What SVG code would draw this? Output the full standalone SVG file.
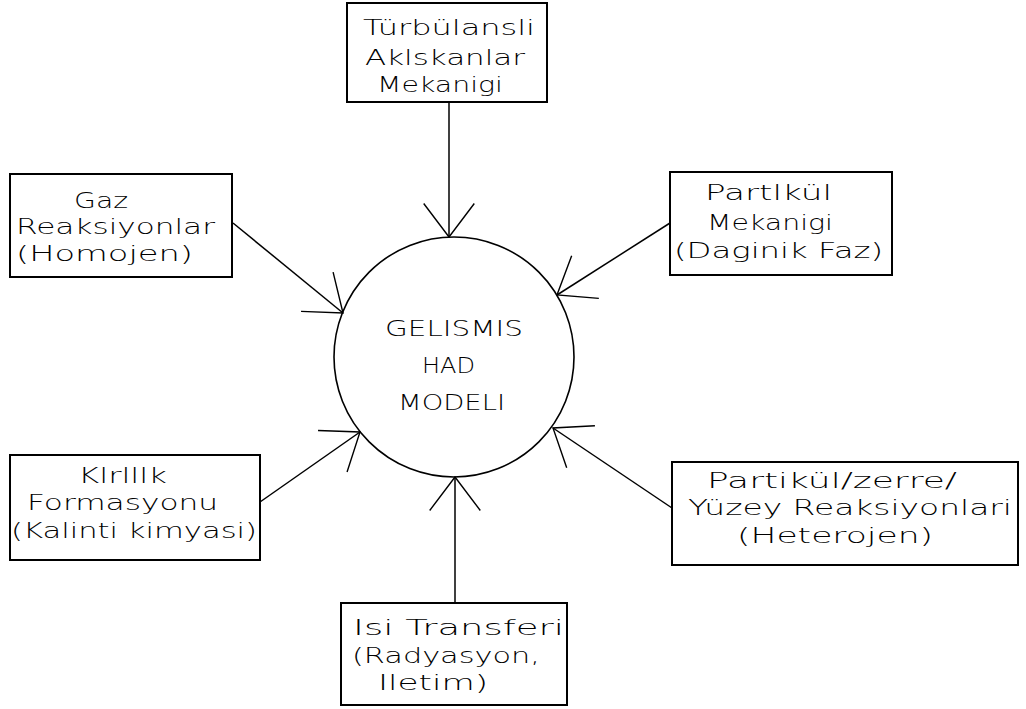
<svg xmlns="http://www.w3.org/2000/svg" width="1026" height="709" viewBox="0 0 1026 709">
<style>
.box{fill:#fff;stroke:#000;stroke-width:2}
.hub{fill:none;stroke:#000;stroke-width:1.6}
.lbl{font-family:"DejaVu Sans","Liberation Sans",sans-serif;font-size:22px;font-weight:200;fill:#000}
.con{stroke:#000;stroke-width:1.5;fill:none}
</style>
<defs>
<marker id="arr" markerUnits="userSpaceOnUse" orient="auto" refX="0" refY="0" markerWidth="80" markerHeight="80" viewBox="-40 -40 80 80" overflow="visible">
<path d="M-33.5,-25.3 L0,0 L-33.5,25.3" fill="none" stroke="#000" stroke-width="1.4"/>
</marker>
</defs>
<rect width="1026" height="709" fill="#fff"/>
<g id="connectors">
<path class="con" d="M449,102 L449,237" marker-end="url(#arr)"/>
<path class="con" d="M233,223 L343,313" marker-end="url(#arr)"/>
<path class="con" d="M670,223 L557,295" marker-end="url(#arr)"/>
<path class="con" d="M260,502 L360,432" marker-end="url(#arr)"/>
<path class="con" d="M672,508 L553,428" marker-end="url(#arr)"/>
<path class="con" d="M455,603 L455,477" marker-end="url(#arr)"/>
</g>
<g id="hub">
<circle class="hub" cx="454" cy="357" r="120"/>
<text class="lbl" x="385" y="336" textLength="138" lengthAdjust="spacingAndGlyphs">GELISMIS</text>
<text class="lbl" x="422" y="373" textLength="53" lengthAdjust="spacingAndGlyphs">HAD</text>
<text class="lbl" x="398" y="410" textLength="107" lengthAdjust="spacingAndGlyphs">MODELI</text>
</g>
<g id="turbulans">
<rect class="box" x="347" y="3" width="200" height="99"/>
<text class="lbl" x="363" y="35" textLength="172" lengthAdjust="spacingAndGlyphs">Türbülansli</text>
<text class="lbl" x="365" y="65" textLength="160" lengthAdjust="spacingAndGlyphs">Aklskanlar</text>
<text class="lbl" x="377" y="92" textLength="126" lengthAdjust="spacingAndGlyphs">Mekanigi</text>
</g>
<g id="gaz">
<rect class="box" x="10" y="174" width="222" height="103"/>
<text class="lbl" x="74" y="208" textLength="54" lengthAdjust="spacingAndGlyphs">Gaz</text>
<text class="lbl" x="16" y="234" textLength="199" lengthAdjust="spacingAndGlyphs">Reaksiyonlar</text>
<text class="lbl" x="16" y="261" textLength="177" lengthAdjust="spacingAndGlyphs">(Homojen)</text>
</g>
<g id="partikul-mekanigi">
<rect class="box" x="670" y="172" width="222" height="103"/>
<text class="lbl" x="705" y="200" textLength="127" lengthAdjust="spacingAndGlyphs">Partlkül</text>
<text class="lbl" x="707" y="230" textLength="126" lengthAdjust="spacingAndGlyphs">Mekanigi</text>
<text class="lbl" x="674" y="258" textLength="209" lengthAdjust="spacingAndGlyphs">(Daginik Faz)</text>
</g>
<g id="kirlilik">
<rect class="box" x="10" y="455" width="250" height="105"/>
<text class="lbl" x="78" y="483" textLength="89" lengthAdjust="spacingAndGlyphs">Klrlllk</text>
<text class="lbl" x="27" y="510" textLength="191" lengthAdjust="spacingAndGlyphs">Formasyonu</text>
<text class="lbl" x="11" y="538" textLength="246" lengthAdjust="spacingAndGlyphs">(Kalinti kimyasi)</text>
</g>
<g id="yuzey">
<rect class="box" x="672" y="462" width="346" height="103"/>
<text class="lbl" x="707" y="488" textLength="250" lengthAdjust="spacingAndGlyphs">Partikül/zerre/</text>
<text class="lbl" x="688" y="515" textLength="324" lengthAdjust="spacingAndGlyphs">Yüzey Reaksiyonlari</text>
<text class="lbl" x="737" y="543" textLength="196" lengthAdjust="spacingAndGlyphs">(Heterojen)</text>
</g>
<g id="isi">
<rect class="box" x="341" y="603" width="226" height="102"/>
<text class="lbl" x="353" y="635" textLength="211" lengthAdjust="spacingAndGlyphs">Isi Transferi</text>
<text class="lbl" x="352" y="663" textLength="188" lengthAdjust="spacingAndGlyphs">(Radyasyon,</text>
<text class="lbl" x="378" y="690" textLength="110" lengthAdjust="spacingAndGlyphs">Iletim)</text>
</g>
</svg>
